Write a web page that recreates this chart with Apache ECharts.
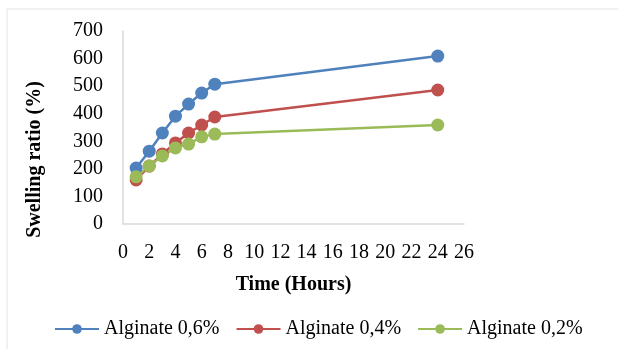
<!DOCTYPE html>
<html>
<head>
<meta charset="utf-8">
<script src="https://cdn.jsdelivr.net/npm/echarts@6/dist/echarts.min.js"></script>
<style>
  html, body { margin: 0; padding: 0; background: #fff; }
  #chart { width: 618px; height: 349px; }
</style>
</head>
<body>
<div id="chart"></div>
<script>
// Time points (hours)
var hours = [1, 2, 3, 4, 5, 6, 7, 24];

// Swelling ratio (%)
var alginate06 = [203, 264, 330, 391, 435, 475, 507, 609];
var alginate04 = [160, 210, 254, 294, 330, 359, 388, 486];
var alginate02 = [171, 210, 247, 276, 290, 316, 326, 359];

var seriesNames = ['Alginate 0,6%', 'Alginate 0,4%', 'Alginate 0,2%'];
var seriesColors = ['#4F81BD', '#C0504D', '#9BBB59'];

function pairs(values) {
    return hours.map(function (h, i) { return [h, values[i]]; });
}

var font = 'Liberation Serif, Times New Roman, serif';

var myChart = echarts.init(document.getElementById('chart'));

var option = {
    backgroundColor: '#fff',
    color: seriesColors,
    textStyle: { fontFamily: font, color: '#000' },
    graphic: [{
        type: 'rect',
        shape: { x: 7, y: 9, width: 640, height: 360 },
        style: { fill: 'none', stroke: '#e3e3e3', lineWidth: 1 },
        silent: true
    }],
    legend: {
        data: seriesNames,
        left: 49,
        top: 314,
        itemWidth: 44,
        itemHeight: 12,
        itemGap: 16,
        textStyle: { fontFamily: font, fontSize: 20, color: '#000' }
    },
    grid: {
        left: 123,
        right: 154,
        top: 31,
        bottom: 125
    },
    xAxis: {
        type: 'value',
        min: 0,
        max: 26,
        interval: 2,
        name: 'Time (Hours)',
        nameLocation: 'middle',
        nameGap: 51,
        nameTextStyle: { fontFamily: font, fontSize: 20, fontWeight: 'bold', color: '#000' },
        axisLine: { lineStyle: { color: '#d9d9d9', width: 1.5 } },
        axisTick: { show: false },
        splitLine: { show: false },
        axisLabel: { fontFamily: font, fontSize: 20, color: '#000', margin: 19 }
    },
    yAxis: {
        type: 'value',
        min: 0,
        max: 700,
        interval: 100,
        name: 'Swelling ratio (%)',
        nameLocation: 'middle',
        nameGap: 78,
        nameTextStyle: { fontFamily: font, fontSize: 20, fontWeight: 'bold', color: '#000', padding: [0, 64, 0, 0] },
        axisLine: { show: true, lineStyle: { color: '#d9d9d9', width: 1.5 } },
        axisTick: { show: false },
        splitLine: { show: false },
        axisLabel: { fontFamily: font, fontSize: 20, color: '#000', margin: 20 }
    },
    series: [alginate06, alginate04, alginate02].map(function (values, i) {
        return {
            name: seriesNames[i],
            type: 'line',
            data: pairs(values),
            symbol: 'circle',
            symbolSize: 13,
            lineStyle: { width: 2.5 },
            itemStyle: { color: seriesColors[i] },
            animation: false
        };
    })
};

myChart.setOption(option);
</script>
</body>
</html>
